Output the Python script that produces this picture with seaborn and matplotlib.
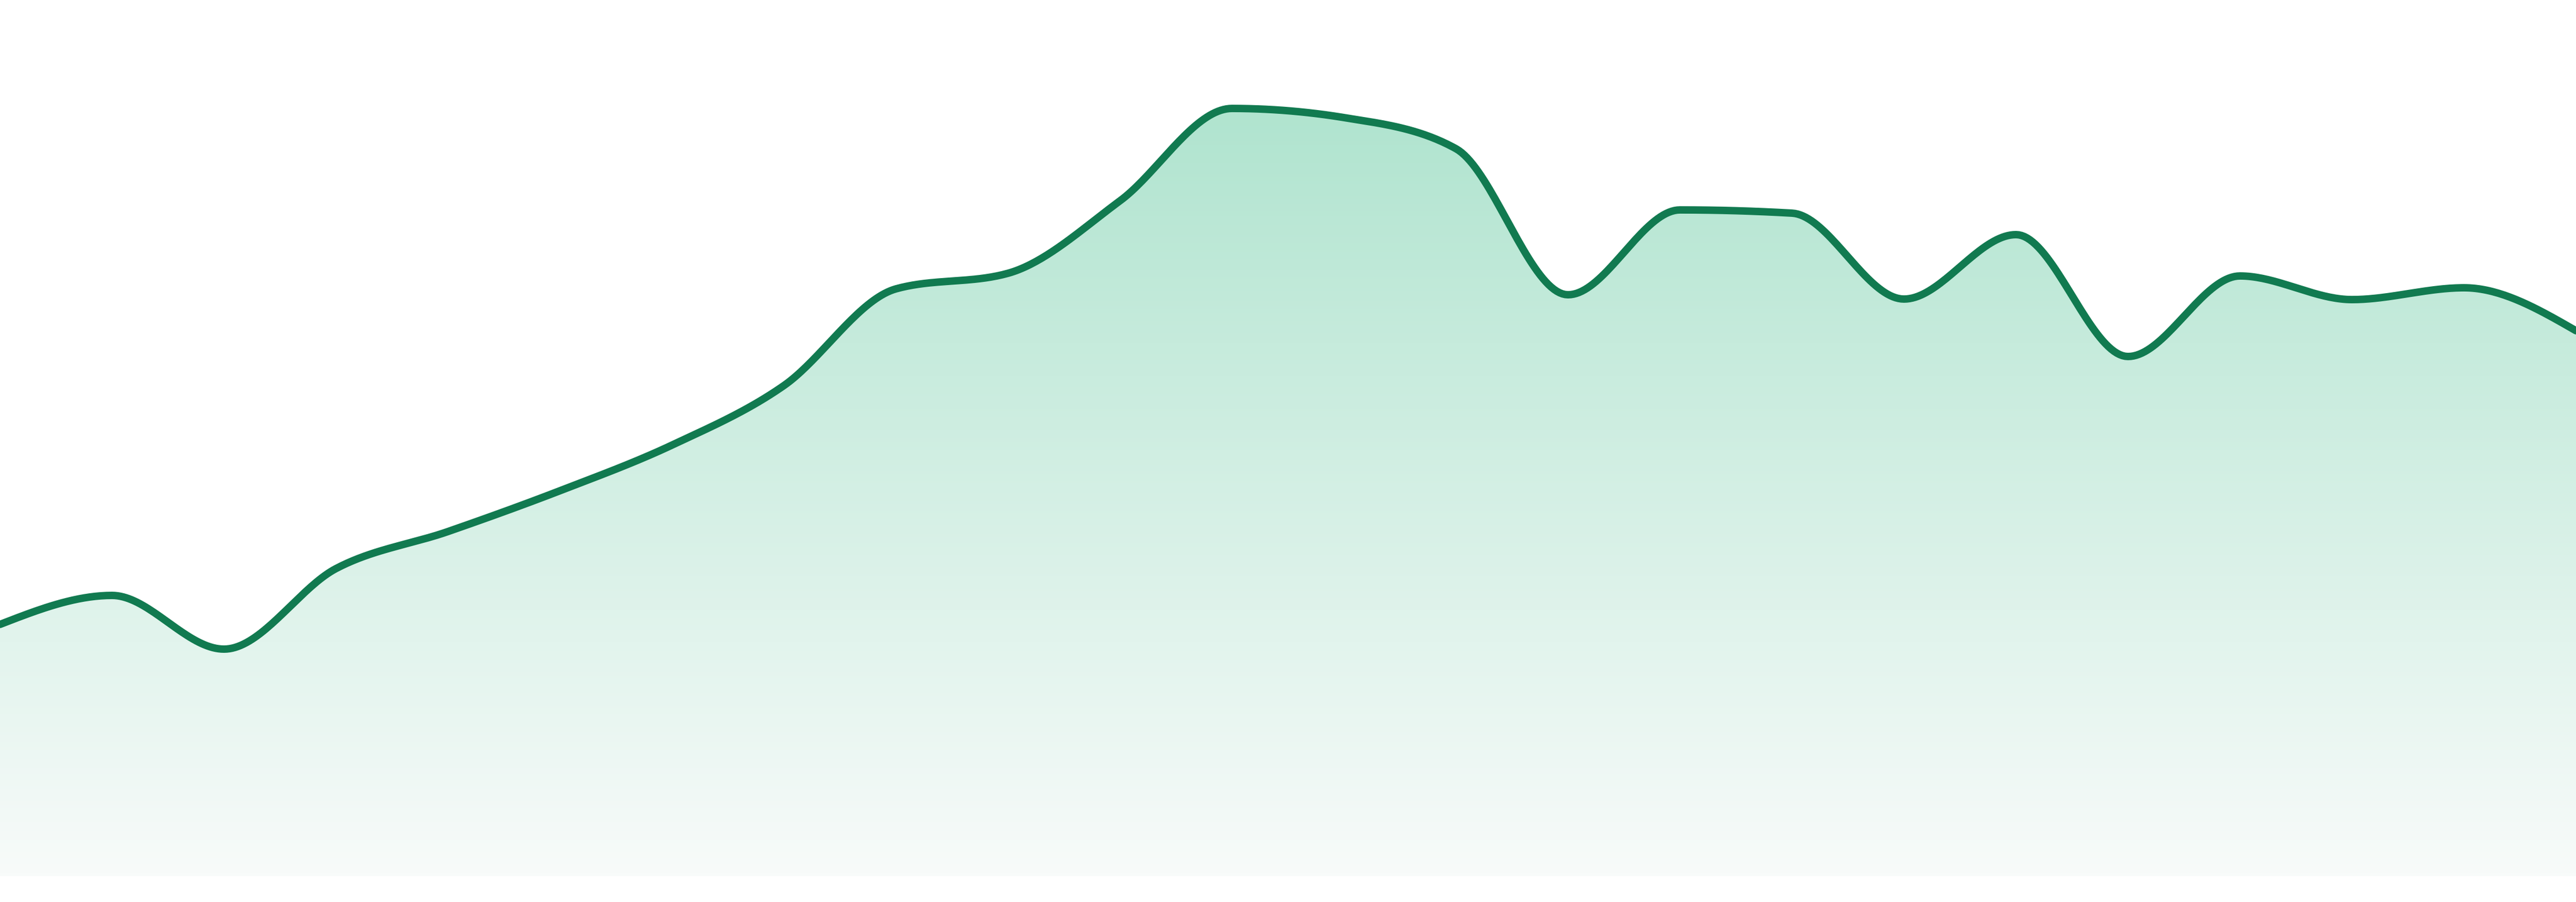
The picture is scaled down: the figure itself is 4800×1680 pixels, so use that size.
import numpy as np
import pandas as pd
import matplotlib
matplotlib.use("Agg")
import matplotlib.pyplot as plt
import seaborn as sns
from matplotlib.colors import LinearSegmentedColormap

# daily index and values
days = list(range(24))
values = [46.9, 52.3, 42.3, 57.3, 64.2, 71.8, 80.3, 91.4, 109.4, 112.3,
          125.8, 143.0, 141.3, 135.5, 108.3, 124.1, 123.5, 107.5, 119.5, 96.8,
          111.8, 107.4, 109.6, 101.6]

line_color = "#117a50"
fill_top = "#b0e4cf"
fill_bottom = "#f8fbfa"


def monotone_curve(x, y, steps=40):
    # monotone cubic (same idea as d3 curveMonotoneX)
    x = np.asarray(x, dtype=float)
    y = np.asarray(y, dtype=float)
    h = np.diff(x)
    s = np.diff(y) / h
    t = np.zeros_like(y)
    for i in range(1, len(y) - 1):
        p = (s[i - 1] * h[i] + s[i] * h[i - 1]) / (h[i - 1] + h[i])
        t[i] = (np.sign(s[i - 1]) + np.sign(s[i])) * min(abs(s[i - 1]), abs(s[i]), 0.5 * abs(p))
    t[0] = (3 * s[0] - t[1]) / 2
    t[-1] = (3 * s[-1] - t[-2]) / 2
    xs, ys = [], []
    for i in range(len(x) - 1):
        u = np.linspace(0, 1, steps, endpoint=(i == len(x) - 2))
        h00 = 2 * u**3 - 3 * u**2 + 1
        h10 = u**3 - 2 * u**2 + u
        h01 = -2 * u**3 + 3 * u**2
        h11 = u**3 - u**2
        xs.append(x[i] + u * h[i])
        ys.append(h00 * y[i] + h10 * h[i] * t[i] + h01 * y[i + 1] + h11 * h[i] * t[i + 1])
    return np.concatenate(xs), np.concatenate(ys)


cx, cy = monotone_curve(days, values)
curve = pd.DataFrame({"day": cx, "value": cy})

sns.set_theme(style="white")

fig = plt.figure(figsize=(48, 16.8), dpi=100)
ax = fig.add_axes([0, 0, 1, 1])
ax.set_xlim(days[0], days[-1])
ax.set_ylim(-4.8, 163.2)

# gradient fill clipped to the area under the curve
area = ax.fill_between(curve["day"], curve["value"], 0, color="none", lw=0)
cmap = LinearSegmentedColormap.from_list("fade", [fill_bottom, fill_top])
grad = np.linspace(0, 1, 256).reshape(-1, 1)
top_v = max(values)
img = ax.imshow(grad, cmap=cmap, aspect="auto", origin="lower",
                extent=[days[0], days[-1], 0, top_v], zorder=1)
img.set_clip_path(area.get_paths()[0], transform=ax.transData)

sns.lineplot(data=curve, x="day", y="value", color=line_color,
             linewidth=10, sort=False, ax=ax, zorder=3)

ax.set_xlim(days[0], days[-1])
ax.set_ylim(-4.8, 163.2)
ax.axis("off")

fig.savefig("out.png", dpi=100, facecolor="white")
